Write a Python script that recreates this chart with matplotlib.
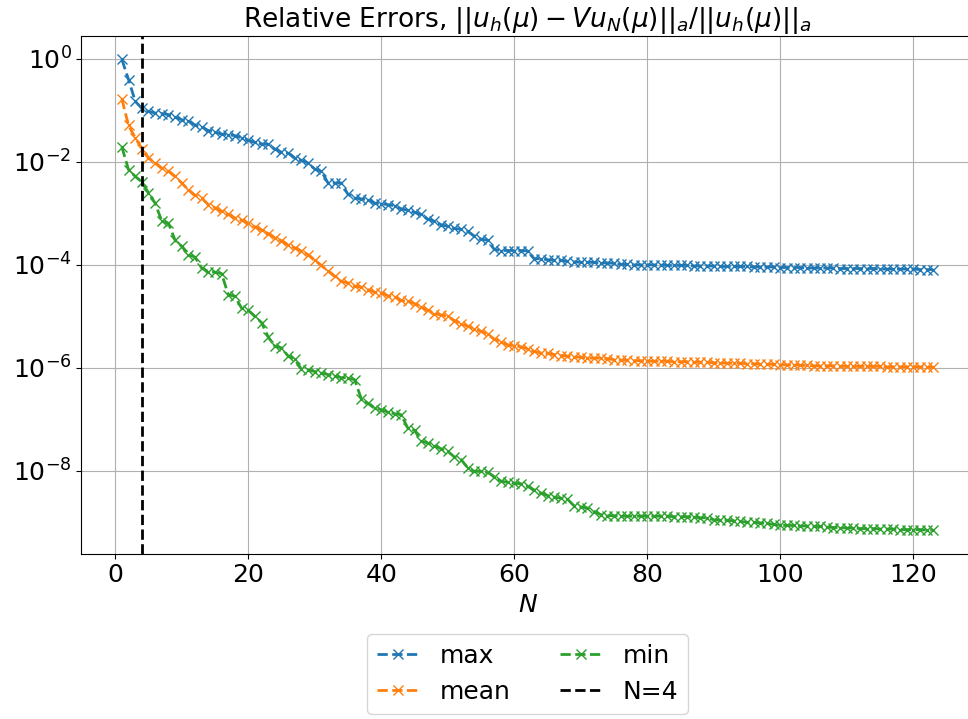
import matplotlib
matplotlib.use('Agg')
import matplotlib.pyplot as plt
import numpy as np

# log10 of the relative errors, one value per N = 1..123
max_log = [-0.01, -0.40, -0.82, -0.96, -1.02, -1.05, -1.06, -1.08, -1.13, -1.18,
           -1.21, -1.28, -1.32, -1.39, -1.42, -1.46, -1.47, -1.49, -1.53, -1.58,
           -1.62, -1.65, -1.66, -1.75, -1.81, -1.83, -1.92, -1.97, -2.02, -2.14,
           -2.18, -2.41, -2.41, -2.41, -2.63, -2.70, -2.72, -2.73, -2.80, -2.81,
           -2.83, -2.85, -2.91, -2.94, -2.98, -3.02, -3.11, -3.15, -3.22, -3.25,
           -3.29, -3.31, -3.35, -3.44, -3.50, -3.52, -3.70, -3.72, -3.72, -3.72,
           -3.72, -3.73, -3.88, -3.88, -3.90, -3.91, -3.91, -3.93, -3.94, -3.95,
           -3.95, -3.95, -3.96, -3.96, -3.97, -3.99, -3.99, -4.00, -4.00, -4.00,
           -4.00, -4.00, -4.01, -4.01, -4.01, -4.01, -4.02, -4.02, -4.02, -4.02,
           -4.03, -4.03, -4.03, -4.03, -4.03, -4.04, -4.04, -4.04, -4.04, -4.05,
           -4.05, -4.05, -4.05, -4.06, -4.06, -4.06, -4.06, -4.06, -4.07, -4.07,
           -4.07, -4.07, -4.07, -4.07, -4.08, -4.08, -4.08, -4.08, -4.08, -4.08,
           -4.09, -4.09, -4.09]

mean_log = [-0.78, -1.29, -1.53, -1.74, -1.92, -2.02, -2.12, -2.18, -2.28, -2.41,
            -2.54, -2.65, -2.70, -2.83, -2.89, -2.96, -3.02, -3.09, -3.13, -3.19,
            -3.26, -3.32, -3.39, -3.47, -3.53, -3.61, -3.67, -3.73, -3.80, -3.91,
            -4.01, -4.12, -4.22, -4.32, -4.35, -4.41, -4.43, -4.48, -4.53, -4.54,
            -4.60, -4.62, -4.69, -4.71, -4.75, -4.82, -4.88, -4.95, -4.97, -5.00,
            -5.08, -5.14, -5.19, -5.24, -5.29, -5.35, -5.44, -5.50, -5.55, -5.57,
            -5.59, -5.63, -5.68, -5.71, -5.72, -5.74, -5.76, -5.77, -5.79, -5.79,
            -5.81, -5.81, -5.81, -5.82, -5.84, -5.85, -5.85, -5.86, -5.86, -5.87,
            -5.87, -5.87, -5.87, -5.88, -5.88, -5.88, -5.89, -5.89, -5.89, -5.90,
            -5.90, -5.91, -5.91, -5.91, -5.92, -5.92, -5.93, -5.93, -5.93, -5.94,
            -5.94, -5.94, -5.95, -5.95, -5.96, -5.96, -5.96, -5.96, -5.97, -5.97,
            -5.97, -5.97, -5.97, -5.97, -5.97, -5.98, -5.98, -5.98, -5.98, -5.98,
            -5.98, -5.98, -5.99]

min_log = [-1.71, -2.15, -2.28, -2.39, -2.60, -2.80, -3.15, -3.19, -3.52, -3.64,
           -3.80, -3.85, -4.06, -4.13, -4.14, -4.17, -4.58, -4.61, -4.84, -4.88,
           -5.00, -5.12, -5.40, -5.58, -5.61, -5.77, -5.83, -6.03, -6.04, -6.07,
           -6.10, -6.13, -6.15, -6.19, -6.19, -6.23, -6.60, -6.69, -6.78, -6.81,
           -6.86, -6.89, -6.91, -7.17, -7.21, -7.42, -7.46, -7.51, -7.57, -7.62,
           -7.73, -7.78, -7.94, -8.01, -8.01, -8.03, -8.11, -8.20, -8.22, -8.24,
           -8.25, -8.30, -8.37, -8.43, -8.48, -8.51, -8.53, -8.55, -8.68, -8.70,
           -8.72, -8.79, -8.85, -8.87, -8.87, -8.88, -8.88, -8.88, -8.88, -8.88,
           -8.88, -8.88, -8.88, -8.89, -8.89, -8.89, -8.90, -8.91, -8.91, -8.95,
           -8.96, -8.96, -8.97, -8.98, -9.00, -9.00, -9.01, -9.02, -9.04, -9.06,
           -9.06, -9.06, -9.07, -9.07, -9.08, -9.08, -9.09, -9.10, -9.10, -9.11,
           -9.11, -9.12, -9.12, -9.12, -9.13, -9.13, -9.13, -9.14, -9.14, -9.14,
           -9.14, -9.15, -9.15]

n_chosen = 4
N = np.arange(1, len(max_log) + 1)

fig = plt.figure(figsize=(9.68, 7.19), dpi=100)
ax = fig.add_axes([0.084, 0.23, 0.922, 0.72])

ax.semilogy(N, 10.0 ** np.array(max_log), 'x--', lw=2, ms=7, label='max')
ax.semilogy(N, 10.0 ** np.array(mean_log), 'x--', lw=2, ms=7, label='mean')
ax.semilogy(N, 10.0 ** np.array(min_log), 'x--', lw=2, ms=7, label='min')
ax.axvline(n_chosen, color='k', ls='--', lw=2, label='N=%d' % n_chosen)

# the plot area runs past the right edge of the picture
ax.spines['right'].set_visible(False)

ax.grid(True)
ax.tick_params(labelsize=18)
ax.set_xlabel('$N$', fontsize=18, labelpad=4)
ax.set_title(r'Relative Errors, $||u_h(\mu) - Vu_N(\mu)||_a/||u_h(\mu)||_a$', fontsize=19)

fig.legend(loc='upper center', bbox_to_anchor=(0.545, 0.136), ncol=2, fontsize=18,
           handlelength=1.7)

fig.savefig('out.png', dpi=100)
